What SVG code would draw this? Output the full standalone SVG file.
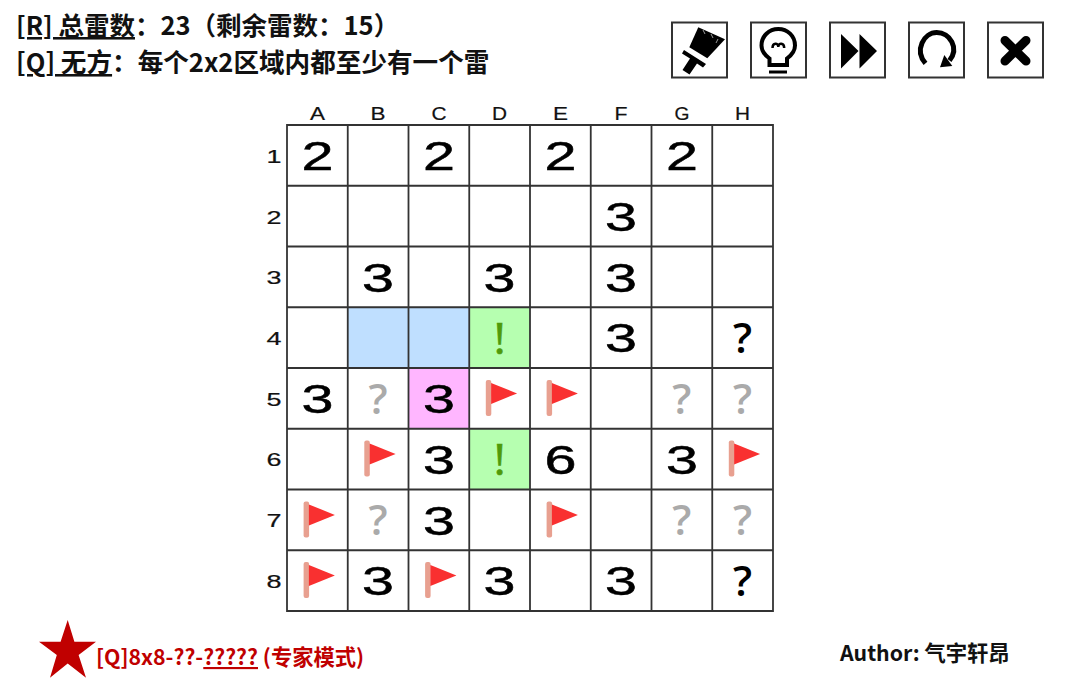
<svg xmlns="http://www.w3.org/2000/svg" xmlns:xlink="http://www.w3.org/1999/xlink" width="1080" height="683" viewBox="0 0 1080 683">
<style>
.t{font-family:"Noto Sans CJK SC","Noto Sans",sans-serif;font-weight:700;fill:#111}
.u{text-decoration:underline}
.r{fill:#c00000}
.d{font-family:"Liberation Sans",Arial,sans-serif;font-size:41px;text-anchor:middle;fill:#000;stroke:#000;stroke-width:.5}
.l{font-family:"Liberation Sans",Arial,sans-serif;font-size:18px;text-anchor:middle;fill:#111;stroke:#111;stroke-width:.2}
.q{font-family:"Open Sans",sans-serif;font-weight:600;font-size:42px;text-anchor:middle;fill:#000}
.g{fill:#aaa}
.e{font-family:"Liberation Serif",serif;font-size:46px;text-anchor:middle;fill:#4f9a0a;stroke:#4f9a0a;stroke-width:.6}
.b{fill:#fff;stroke:#333;stroke-width:2}
.grid{fill:none;stroke:#333;stroke-width:1.8}
</style>
<defs>
<g id="flag"><rect x="-13.800" y="-18.500" width="5.500" height="36" rx="2" fill="#e8a090"/><path d="M-8.500-15.500 17.500-5-8.500 5.500Z" fill="#f93030"/></g>
</defs>
<g id="header">
<text class="t" x="16" y="35" font-size="25.500"><tspan class="u">[R] 总雷数</tspan>：23（剩余雷数：15）</text>
<text class="t" x="16" y="72" font-size="25.600"><tspan class="u">[Q] 无方</tspan>：每个2x2区域内都至少有一个雷</text>
</g>
<g id="btn-brush"><rect class="b" x="672" y="22.500" width="55" height="55"/><path d="M698.300 27.300 725 39.300 707.300 58.300 689.300 47.300Z"/><path d="M703 30 705 34M711 34 713 38M718 39 716 43" stroke="#fff" stroke-width="1" opacity=".6"/><path d="M684 50 706 64 703 67.500 697 63.500 689.500 74.500 682.500 70 690 58.500 682 53.500Z"/></g>
<g id="btn-bulb"><rect class="b" x="751" y="22.500" width="55" height="55"/><g fill="none" stroke="#000"><path d="M769.500 65V58.500C764 54.500 761.500 51 761.500 45.500 761.500 36 769 29 778.300 29 787.500 29 795 36 795 45.500 795 51 792.500 54.500 787 58.500V65Z" stroke-width="4"/><path d="M769 72H787" stroke-width="3"/><path d="M772.500 48C772.500 42.500 778.300 42.500 778.300 47 778.300 42.500 784.200 42.500 784.200 48" stroke-width="2.500"/></g></g>
<g id="btn-forward"><rect class="b" x="830" y="22.500" width="55" height="55"/><path d="M841 34 858.500 51 841 68.500ZM859.500 34 877 51 859.500 68.500Z"/></g>
<g id="btn-redo"><rect class="b" x="909" y="22.500" width="55" height="55"/><path d="M925.500 63.300C914 50 924 32.500 936.700 32.500 950 32.500 959.500 48 949.500 60.500" fill="none" stroke="#000" stroke-width="5"/><path d="M940 67.300 952.300 66 944.300 55Z"/></g>
<g id="btn-close"><rect class="b" x="988" y="22.500" width="55" height="55"/><path d="M1005 40.500 1026 61M1026 40.500 1005 61" stroke="#000" stroke-width="9" stroke-linecap="round"/></g>
<g id="board">
<rect x="347.800" y="307" width="121.500" height="60.750" fill="#bfdfff"/>
<rect x="469.300" y="307" width="60.750" height="60.750" fill="#b6ffb0"/>
<rect x="408.500" y="367.800" width="60.750" height="60.750" fill="#ffb6ff"/>
<rect x="469.300" y="428.500" width="60.750" height="60.750" fill="#b6ffb0"/>
<path class="grid" d="M287 125H773V611H287ZM347.750 125V611M408.500 125V611M469.250 125V611M530 125V611M590.750 125V611M651.500 125V611M712.250 125V611M287 185.750H773M287 246.500H773M287 307.250H773M287 368H773M287 428.750H773M287 489.500H773M287 550.250H773"/>
</g>
<g id="col-labels">
<text class="l" x="317.400" y="120" textLength="15" lengthAdjust="spacingAndGlyphs">A</text>
<text class="l" x="378.100" y="120" textLength="15" lengthAdjust="spacingAndGlyphs">B</text>
<text class="l" x="438.900" y="120" textLength="15" lengthAdjust="spacingAndGlyphs">C</text>
<text class="l" x="499.600" y="120" textLength="15" lengthAdjust="spacingAndGlyphs">D</text>
<text class="l" x="560.400" y="120" textLength="15" lengthAdjust="spacingAndGlyphs">E</text>
<text class="l" x="621.100" y="120" textLength="13" lengthAdjust="spacingAndGlyphs">F</text>
<text class="l" x="681.900" y="120" textLength="15" lengthAdjust="spacingAndGlyphs">G</text>
<text class="l" x="742.600" y="120" textLength="15" lengthAdjust="spacingAndGlyphs">H</text>
</g>
<g id="row-labels">
<text class="l" x="274" y="163" textLength="15" lengthAdjust="spacingAndGlyphs">1</text>
<text class="l" x="274" y="223.500" textLength="15" lengthAdjust="spacingAndGlyphs">2</text>
<text class="l" x="274" y="284" textLength="15" lengthAdjust="spacingAndGlyphs">3</text>
<text class="l" x="274" y="345" textLength="15" lengthAdjust="spacingAndGlyphs">4</text>
<text class="l" x="274" y="405.500" textLength="15" lengthAdjust="spacingAndGlyphs">5</text>
<text class="l" x="274" y="466" textLength="15" lengthAdjust="spacingAndGlyphs">6</text>
<text class="l" x="274" y="527" textLength="15" lengthAdjust="spacingAndGlyphs">7</text>
<text class="l" x="274" y="588" textLength="15" lengthAdjust="spacingAndGlyphs">8</text>
</g>
<g id="cells">
<g id="A1"><text class="d" x="317.400" y="170" textLength="32" lengthAdjust="spacingAndGlyphs">2</text></g>
<g id="C1"><text class="d" x="438.900" y="170" textLength="32" lengthAdjust="spacingAndGlyphs">2</text></g>
<g id="E1"><text class="d" x="560.400" y="170" textLength="32" lengthAdjust="spacingAndGlyphs">2</text></g>
<g id="G1"><text class="d" x="681.900" y="170" textLength="32" lengthAdjust="spacingAndGlyphs">2</text></g>
<g id="F2"><text class="d" x="621.100" y="230.700" textLength="32" lengthAdjust="spacingAndGlyphs">3</text></g>
<g id="B3"><text class="d" x="378.100" y="291.500" textLength="32" lengthAdjust="spacingAndGlyphs">3</text></g>
<g id="D3"><text class="d" x="499.600" y="291.500" textLength="32" lengthAdjust="spacingAndGlyphs">3</text></g>
<g id="F3"><text class="d" x="621.100" y="291.500" textLength="32" lengthAdjust="spacingAndGlyphs">3</text></g>
<g id="D4"><text class="e" x="499.600" y="354">!</text></g>
<g id="F4"><text class="d" x="621.100" y="352.200" textLength="32" lengthAdjust="spacingAndGlyphs">3</text></g>
<g id="H4"><text class="q" x="742.600" y="353">?</text></g>
<g id="A5"><text class="d" x="317.400" y="413" textLength="32" lengthAdjust="spacingAndGlyphs">3</text></g>
<g id="B5"><text class="q g" x="378.100" y="413.800">?</text></g>
<g id="C5"><text class="d" x="438.900" y="413" textLength="32" lengthAdjust="spacingAndGlyphs">3</text></g>
<g id="D5"><use xlink:href="#flag" href="#flag" x="499.600" y="398.400"/></g>
<g id="E5"><use xlink:href="#flag" href="#flag" x="560.400" y="398.400"/></g>
<g id="G5"><text class="q g" x="681.900" y="413.800">?</text></g>
<g id="H5"><text class="q g" x="742.600" y="413.800">?</text></g>
<g id="B6"><use xlink:href="#flag" href="#flag" x="378.100" y="459.100"/></g>
<g id="C6"><text class="d" x="438.900" y="473.700" textLength="32" lengthAdjust="spacingAndGlyphs">3</text></g>
<g id="D6"><text class="e" x="499.600" y="475">!</text></g>
<g id="E6"><text class="d" x="560.400" y="473.700" textLength="32" lengthAdjust="spacingAndGlyphs">6</text></g>
<g id="G6"><text class="d" x="681.900" y="473.700" textLength="32" lengthAdjust="spacingAndGlyphs">3</text></g>
<g id="H6"><use xlink:href="#flag" href="#flag" x="742.600" y="459.100"/></g>
<g id="A7"><use xlink:href="#flag" href="#flag" x="317.400" y="519.900"/></g>
<g id="B7"><text class="q g" x="378.100" y="535.300">?</text></g>
<g id="C7"><text class="d" x="438.900" y="534.500" textLength="32" lengthAdjust="spacingAndGlyphs">3</text></g>
<g id="E7"><use xlink:href="#flag" href="#flag" x="560.400" y="519.900"/></g>
<g id="G7"><text class="q g" x="681.900" y="535.300">?</text></g>
<g id="H7"><text class="q g" x="742.600" y="535.300">?</text></g>
<g id="A8"><use xlink:href="#flag" href="#flag" x="317.400" y="580.600"/></g>
<g id="B8"><text class="d" x="378.100" y="595.200" textLength="32" lengthAdjust="spacingAndGlyphs">3</text></g>
<g id="C8"><use xlink:href="#flag" href="#flag" x="438.900" y="580.600"/></g>
<g id="D8"><text class="d" x="499.600" y="595.200" textLength="32" lengthAdjust="spacingAndGlyphs">3</text></g>
<g id="F8"><text class="d" x="621.100" y="595.200" textLength="32" lengthAdjust="spacingAndGlyphs">3</text></g>
<g id="H8"><text class="q" x="742.600" y="596">?</text></g>
</g>
<g id="footer">
<path id="star" class="r" d="M67.700 620 74.400 641.700H96L78.600 655 86 677.700 67.700 663.500 50 677.700 56.800 655 39 641.700H60.600Z"/>
<text class="t r" x="96" y="665" font-size="21.300">[Q]8x8-??-<tspan class="u">?????</tspan> (专家模式)</text>
<text class="t" x="840" y="661" font-size="21.300">Author: 气宇轩昂</text>
</g>
</svg>
